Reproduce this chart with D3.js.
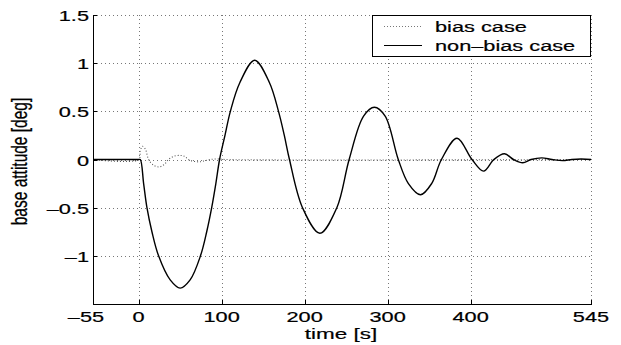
<!DOCTYPE html>
<html>
<head>
<meta charset="utf-8">
<script src="https://cdn.jsdelivr.net/npm/d3@7"></script>
<style>
  html, body { margin: 0; padding: 0; background: #fff; }
  svg text { font-family: "Liberation Sans", Arial, Helvetica, sans-serif; fill: #000; stroke: #000; stroke-width: 0.2px; }
</style>
</head>
<body>
<script>
// Data (time [s], attitude [deg])
const nonBiasTime = [-55, 0, 2, 6, 10, 16, 24, 38, 50, 62, 74.5, 82, 88, 93, 97.5,
  104, 110.5, 122, 139.8, 157.5, 168.5, 175.5, 181.7, 197.4, 218.3, 238.8, 253.6, 271, 284,
  297, 312.8, 325, 339.6, 353, 364.8, 383.6, 401.6, 415.6, 428, 440.8, 451.6,
  462.8, 472.8, 485.6, 498, 510.8, 522, 533, 545];
const nonBiasValue = [0, 0, 0, -0.25, -0.5, -0.75, -1, -1.25, -1.335, -1.25, -1, -0.75, -0.5, -0.25, 0,
  0.25, 0.5, 0.8, 1.031, 0.8, 0.5, 0.25, 0, -0.5, -0.766, -0.5, 0, 0.45, 0.542,
  0.45, 0, -0.25, -0.366, -0.25, 0, 0.221, 0, -0.121, 0, 0.059, 0,
  -0.034, 0, 0.017, 0, -0.012, 0, 0.005, 0];

const biasTime = [-55, 0, 2, 4.5, 8, 12, 18, 25, 31, 36, 43, 51, 56, 60, 67, 74, 80, 86, 95, 105, 545];
const biasValue = [0, 0, 0.09, 0.137, 0.11, 0, -0.06, -0.077, -0.05, 0, 0.035, 0.042, 0.03, 0, -0.02, -0.024, -0.012, 0, 0.006, 0, 0];

const xTicks = [-55, 0, 100, 200, 300, 400, 545];
const xTickLabels = ["–55", "0", "100", "200", "300", "400", "545"];
const yTicks = [-1, -0.5, 0, 0.5, 1, 1.5];
const yTickLabels = ["–1", "–0.5", "0", "0.5", "1", "1.5"];

const seriesNames = ["bias case", "non–bias case"];

// Parameters
const w = 621;
const h = 345;
const mLeft = 93, mRight = 591, mTop = 15, mBottom = 304;
const SX = 1.45; // text in the picture is stretched sideways

const svg = d3.select("body").append("svg")
  .attr("width", w)
  .attr("height", h);

const xScale = d3.scaleLinear().domain([-55, 545]).range([mLeft, mRight]);
const yScale = d3.scaleLinear().domain([-1.5, 1.5]).range([mBottom, mTop]);

// stretched text helper
function label(x, y, txt, size, anchor, rot) {
  svg.append("text")
    .attr("transform", "translate(" + x + "," + y + ") scale(" + SX + ",1)" + (rot ? " rotate(" + rot + ")" : ""))
    .attr("text-anchor", anchor)
    .style("font-size", size + "px")
    .text(txt);
}

// grid
svg.append("g").selectAll("line")
  .data(xTicks.filter((d) => d !== -55))
  .enter().append("line")
  .attr("x1", (d) => Math.round(xScale(d)) + 0.5)
  .attr("x2", (d) => Math.round(xScale(d)) + 0.5)
  .attr("y1", mTop)
  .attr("y2", mBottom)
  .attr("stroke", "#777")
  .attr("stroke-dasharray", "1,3");

svg.append("g").selectAll("line")
  .data(yTicks)
  .enter().append("line")
  .attr("y1", (d) => Math.round(yScale(d)) + 0.5)
  .attr("y2", (d) => Math.round(yScale(d)) + 0.5)
  .attr("x1", mLeft)
  .attr("x2", mRight)
  .attr("stroke", "#777")
  .attr("stroke-dasharray", "1,3");

// curves
const line = d3.line()
  .x((d) => xScale(d[0]))
  .y((d) => yScale(d[1]))
  .curve(d3.curveCatmullRom.alpha(0.5));

svg.append("path")
  .datum(d3.zip(biasTime, biasValue))
  .attr("d", line)
  .attr("fill", "none")
  .attr("stroke", "#555")
  .attr("stroke-width", 1.1)
  .attr("stroke-dasharray", "1,2");

svg.append("path")
  .datum(d3.zip(nonBiasTime, nonBiasValue))
  .attr("d", line)
  .attr("fill", "none")
  .attr("stroke", "#000")
  .attr("stroke-width", 1.4);

// axes (left + bottom, ticks inward)
svg.append("line")
  .attr("x1", mLeft + 0.5).attr("x2", mLeft + 0.5)
  .attr("y1", mTop).attr("y2", mBottom + 1)
  .attr("stroke", "#000");
svg.append("line")
  .attr("x1", mLeft).attr("x2", mRight + 1)
  .attr("y1", mBottom + 0.5).attr("y2", mBottom + 0.5)
  .attr("stroke", "#000");

svg.append("g").selectAll("line")
  .data(xTicks)
  .enter().append("line")
  .attr("x1", (d) => Math.round(xScale(d)) + 0.5)
  .attr("x2", (d) => Math.round(xScale(d)) + 0.5)
  .attr("y1", mBottom)
  .attr("y2", mBottom - 4)
  .attr("stroke", "#000");

svg.append("g").selectAll("line")
  .data(yTicks)
  .enter().append("line")
  .attr("y1", (d) => Math.round(yScale(d)) + 0.5)
  .attr("y2", (d) => Math.round(yScale(d)) + 0.5)
  .attr("x1", mLeft)
  .attr("x2", mLeft + 4)
  .attr("stroke", "#000");

// tick labels
xTicks.forEach((d, i) => {
  label(xScale(d) + (d === -55 ? -7 : 0), 322, xTickLabels[i], 15, "middle");
});
yTicks.forEach((d, i) => {
  label(89, yScale(d) + 6, yTickLabels[i], 15, "end");
});

// axis titles
label(341, 339, "time [s]", 15.5, "middle");
label(27, (mTop + mBottom) / 2 + 2, "base attitude [deg]", 15.5, "middle", -90);

// legend
const lg = svg.append("g");
lg.append("rect")
  .attr("x", 372.5).attr("y", 15.5)
  .attr("width", 218).attr("height", 41)
  .attr("fill", "#fff")
  .attr("stroke", "#000");

lg.append("line")
  .attr("x1", 384).attr("x2", 422)
  .attr("y1", 26.5).attr("y2", 26.5)
  .attr("stroke", "#777")
  .attr("stroke-dasharray", "1,2");
lg.append("line")
  .attr("x1", 384).attr("x2", 422)
  .attr("y1", 45.5).attr("y2", 45.5)
  .attr("stroke", "#000")
  .attr("stroke-width", 1.2);

label(435, 31.5, seriesNames[0], 15, "start");
label(435, 50.5, seriesNames[1], 15, "start");
</script>
</body>
</html>
